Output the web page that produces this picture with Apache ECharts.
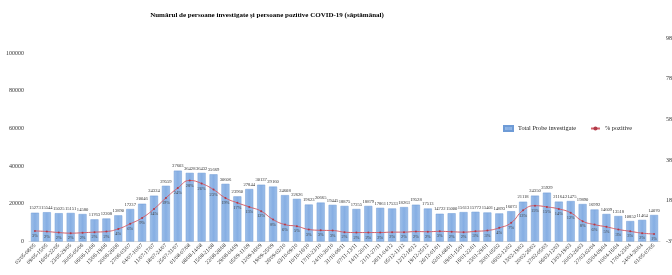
<!DOCTYPE html>
<html>
<head>
<meta charset="utf-8">
<script src="https://cdn.jsdelivr.net/npm/echarts@6/dist/echarts.min.js"></script>
<style>html,body{margin:0;padding:0;background:#fff}#c{width:672px;height:275px}</style>
</head>
<body>
<div id="c"></div>
<script>
const titleText = 'Numărul de persoane investigate și persoane pozitive COVID-19 (săptămânal)';
const categories = ['02/05-08/05','09/05-15/05','16/05-22/05','23/05-29/05','30/05-05/06','06/06-12/06','13/06-19/06','20/06-26/06','27/06-03/07','04/07-10/07','11/07-17/07','18/07-24/07','25/07-31/07','01/08-07/08','08/08-14/08','15/08-21/08','22/08-28/08','29/08-04/09','05/09-11/09','12/09-18/09','19/09-25/09','26/09-02/10','03/10-09/10','10/10-16/10','17/10-23/10','24/10-30/10','31/10-06/11','07/11-13/11','14/11-20/11','21/11-27/11','28/11-04/12','05/12-11/12','12/12-18/12','19/12-25/12','26/12-01/01','02/01-08/01','09/01-15/01','16/01-22/01','23/01-29/01','30/01-05/02','06/02-12/02','13/02-19/02','20/02-26/02','27/02-05/03','06/03-12/03','13/03-19/03','20/03-26/03','27/03-02/04','03/04-09/04','10/04-16/04','17/04-23/04','24/04-30/04','01/05-07/05'];
const totalProbe = [15273,15544,15025,15151,14580,11763,12208,13890,17237,20046,24324,29559,37603,36428,36432,35669,30606,23960,27844,30137,29160,24608,22626,19623,20665,19445,18875,17255,18879,17861,17533,18263,19528,17513,14722,15000,15613,15772,15401,14893,16073,21118,24350,25929,21164,21475,19890,16992,14609,13518,10852,11464,14070];
const pctPozitive = [2.7,2.4,1.9,1.6,1.8,2.1,2.4,3.7,6.2,9.1,13.5,18.9,23.8,27.5,26.0,23.0,18.9,16.5,14.5,12.4,8.3,5.8,5.0,3.4,3.0,2.9,2.1,1.9,1.9,1.9,2.1,2.1,2.4,2.3,2.5,2.3,2.1,2.5,2.9,4.2,6.7,12.8,15.1,14.5,13.5,11.6,7.5,5.8,4.7,3.4,2.5,1.6,1.2];
const leftTicks = [0,20000,40000,60000,80000,100000];
const rightTicks = [-2.5,17.5,37.5,57.5,77.5,97.5];
const seriesNames = ['Total Probe investigate','% pozitive'];

const serif = '"Liberation Serif","DejaVu Serif",serif';
function rnd(v){ return (v<0?-1:1)*Math.round(Math.abs(v)); }

const chart = echarts.init(document.getElementById('c'), null, {renderer:'canvas'});
chart.setOption({
  animation:false,
  backgroundColor:'#fff',
  title:{text:titleText,left:262,top:7,textAlign:'center',
    textStyle:{fontFamily:serif,fontSize:7,fontWeight:'bold',color:'#000'}},
  legend:{left:498,top:120,itemWidth:9,itemHeight:5,itemGap:14,
    textStyle:{fontFamily:serif,fontSize:6.3,color:'#222'},
    data:[{name:seriesNames[0],icon:'rect'},{name:seriesNames[1]}]},
  grid:{left:29,right:12,top:38,bottom:33.5,containLabel:false,outerBoundsMode:'none'},
  xAxis:{type:'category',data:categories,
    axisLine:{show:true,lineStyle:{color:'#d9d9d9',width:1}},
    axisTick:{show:false},
    axisLabel:{interval:0,rotate:45,fontFamily:serif,fontSize:5.5,color:'#222',margin:3}},
  yAxis:[
    {type:'value',min:0,max:108000,
      axisLine:{show:false},axisTick:{show:false},splitLine:{show:false},
      axisLabel:{customValues:leftTicks,fontFamily:serif,fontSize:6,color:'#333',margin:5,
        formatter:v=>String(v)}},
    {type:'value',min:-2.5,max:97.5,position:'right',
      axisLine:{show:false},axisTick:{show:false},splitLine:{show:false},
      axisLabel:{customValues:rightTicks,fontFamily:serif,fontSize:6,color:'#333',margin:6,
        formatter:v=>rnd(v)+'%'}}
  ],
  series:[
    {name:seriesNames[0],type:'bar',data:totalProbe,barWidth:8,yAxisIndex:0,
      itemStyle:{color:new echarts.graphic.LinearGradient(0,0,1,0,[
        {offset:0,color:'#9dbfe9'},{offset:0.5,color:'#86aee3'},{offset:1,color:'#9dbfe9'}]),
        borderColor:'#6e9bd6',borderWidth:0.5},
      label:{show:true,position:'top',distance:2,fontFamily:serif,fontSize:4.6,color:'#333'}},
    {name:seriesNames[1],type:'line',data:pctPozitive,yAxisIndex:1,smooth:true,
      symbol:'circle',symbolSize:2,
      lineStyle:{color:'#d4606b',width:1},
      itemStyle:{color:'#b03a48'},
      label:{show:true,position:'bottom',distance:2,fontFamily:serif,fontSize:4.4,color:'#444',
        formatter:p=>Math.round(p.value)+'%'}}
  ]
});
</script>
</body>
</html>
